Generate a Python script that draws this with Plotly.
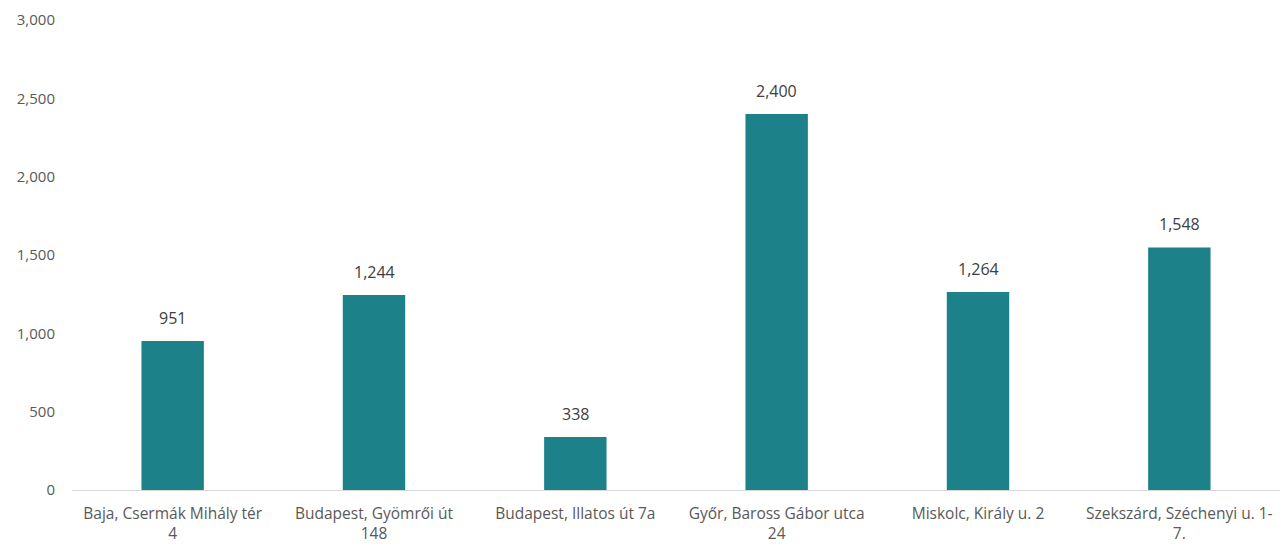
import plotly.graph_objects as go

categories = [
    "Baja, Csermák Mihály tér<br>4",
    "Budapest, Gyömrői út<br>148",
    "Budapest, Illatos út 7a",
    "Győr, Baross Gábor utca<br>24",
    "Miskolc, Király u. 2",
    "Szekszárd, Széchenyi u. 1-<br>7.",
]
values = [951, 1244, 338, 2400, 1264, 1548]
y_ticks = [0, 500, 1000, 1500, 2000, 2500, 3000]

fig = go.Figure(go.Bar(
    x=categories,
    y=values,
    marker=dict(color="#1D8189", line=dict(width=0)),
))

for c, v in zip(categories, values):
    fig.add_annotation(
        x=c, y=v, text=f"{v:,}", showarrow=False,
        yanchor="bottom", yshift=10,
        font=dict(size=16, color="#404040", family="Open Sans"),
    )

fig.update_layout(
    width=1283, height=544,
    margin=dict(l=72, r=3, t=20, b=54, autoexpand=False),
    paper_bgcolor="white", plot_bgcolor="white",
    bargap=0.69,
    showlegend=False,
    font=dict(family="Open Sans", color="#595959", size=15),
)
fig.update_xaxes(
    showline=True, linecolor="#D9D9D9", linewidth=1,
    showgrid=False, ticks="", tickfont=dict(size=15.5, color="#595959"),
    ticklabelstandoff=9, automargin=False,
)
fig.update_yaxes(
    range=[0, 3000], tickvals=y_ticks, tickformat=",",
    showgrid=False, zeroline=False, showline=False, automargin=False,
    ticklabelstandoff=16, tickfont=dict(size=15, color="#595959"),
)

fig.write_html("out.html")
